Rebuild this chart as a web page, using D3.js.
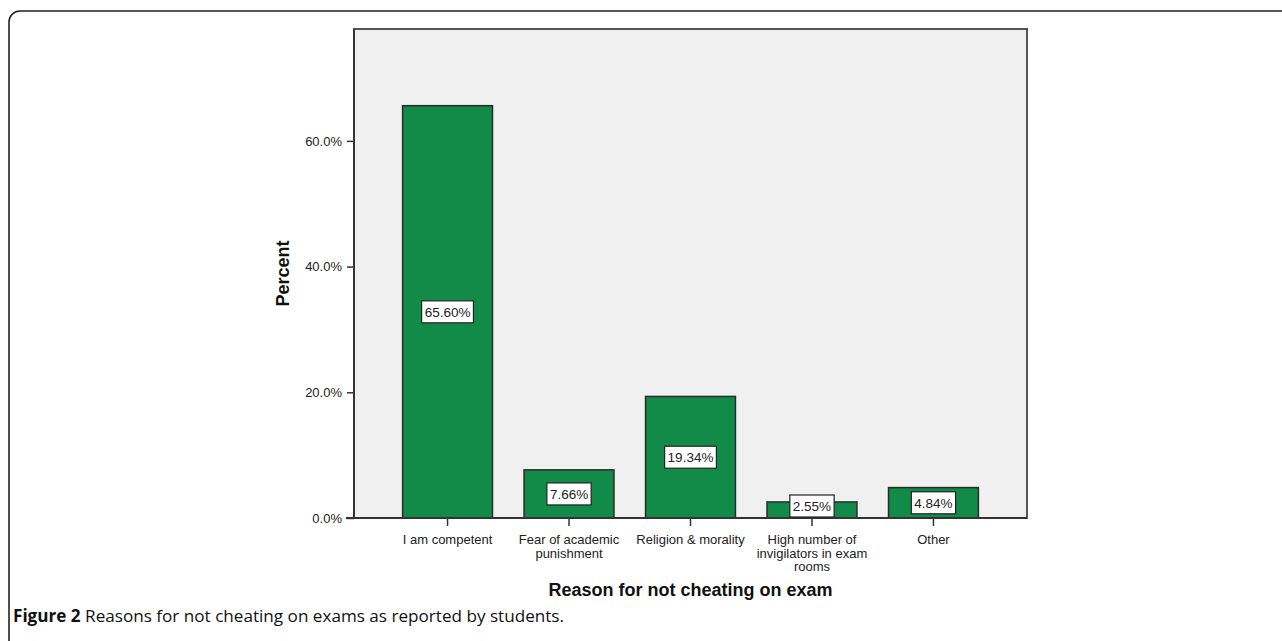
<!DOCTYPE html>
<html>
<head>
<meta charset="utf-8">
<script src="https://cdn.jsdelivr.net/npm/d3@7"></script>
<style>
  body { margin: 0; background: #fff; }
  svg { display: block; }
</style>
</head>
<body>
<div id="chart"></div>
<script>
///////////
// Data  //
///////////

var categories = [
	["I am competent"],
	["Fear of academic", "punishment"],
	["Religion & morality"],
	["High number of", "invigilators in exam", "rooms"],
	["Other"]
];
var percents = [65.60, 7.66, 19.34, 2.55, 4.84];
var yTicks = [0, 20, 40, 60];

///////////////////
// Initial setup //
///////////////////

var width = 1282, height = 641;
var font = "Liberation Sans, Arial, sans-serif";
var svg = d3.select("#chart").append("svg")
	.attr("width", width).attr("height", height);

// Outer rounded frame (runs off the right and bottom edges)
svg.append("rect")
	.attr("x", 9).attr("y", 11)
	.attr("width", 1400).attr("height", 800)
	.attr("rx", 11).attr("ry", 11)
	.attr("fill", "none").attr("stroke", "#222").attr("stroke-width", 1.6);

var plot = { left: 354, top: 29, right: 1027, bottom: 518 };
var keys = categories.map(function(c) { return c.join(" "); });

var x = d3.scaleBand().domain(keys)
	.range([plot.left, plot.right])
	.paddingInner(0.26).paddingOuter(0.4);
var y = d3.scaleLinear().domain([0, 77.8]).range([plot.bottom, plot.top]);

// Plot background
svg.append("rect")
	.attr("x", plot.left).attr("y", plot.top)
	.attr("width", plot.right - plot.left).attr("height", plot.bottom - plot.top)
	.attr("fill", "#f0f0f0").attr("stroke", "#555").attr("stroke-width", 2);

// Bars
svg.selectAll("rect.bar").data(percents).enter().append("rect")
	.attr("class", "bar")
	.attr("x", function(d, i) { return x(keys[i]); })
	.attr("y", function(d) { return y(d); })
	.attr("width", x.bandwidth())
	.attr("height", function(d) { return y(0) - y(d); })
	.attr("fill", "#118b47")
	.attr("stroke", "#2a2a2a").attr("stroke-width", 1.5);

// Y axis
var yAxis = svg.append("g")
	.attr("transform", "translate(" + plot.left + ",0)")
	.call(d3.axisLeft(y).tickValues(yTicks).tickSize(7).tickSizeOuter(0).tickPadding(5)
		.tickFormat(function(d) { return d.toFixed(1) + "%"; }));
yAxis.select(".domain").attr("stroke", "#333").attr("stroke-width", 2)
	.attr("d", "M0," + plot.bottom + "V" + plot.top);
yAxis.selectAll(".tick line").attr("stroke", "#333").attr("stroke-width", 1.5);
yAxis.selectAll("text").attr("font-family", font)
	.attr("font-size", "13px").attr("fill", "#222");

// X axis
var xAxis = svg.append("g")
	.attr("transform", "translate(0," + plot.bottom + ")")
	.call(d3.axisBottom(x).tickSize(8).tickSizeOuter(0).tickFormat(""));
xAxis.select(".domain").attr("stroke", "#333").attr("stroke-width", 2)
	.attr("d", "M" + (plot.left - 8) + ",0H" + plot.right);
xAxis.selectAll(".tick line").attr("stroke", "#333").attr("stroke-width", 1.5);

// Multi-line category labels
svg.selectAll("text.cat").data(categories).enter().append("text")
	.attr("class", "cat")
	.attr("font-family", font)
	.attr("font-size", "13px").attr("fill", "#222")
	.attr("text-anchor", "middle")
	.each(function(lines, i) {
		var t = d3.select(this);
		lines.forEach(function(line, j) {
			t.append("tspan")
				.attr("x", x(keys[i]) + x.bandwidth() / 2)
				.attr("y", 544 + j * 13.5)
				.text(line);
		});
	});

// Value labels in boxes
var labels = svg.selectAll("g.lab").data(percents).enter().append("g")
	.attr("class", "lab")
	.attr("transform", function(d, i) {
		var cy = Math.min((y(0) + y(d)) / 2, plot.bottom - 12);
		return "translate(" + (x(keys[i]) + x.bandwidth() / 2) + "," + cy + ")";
	});
labels.append("text")
	.attr("font-family", font)
	.attr("font-size", "13.5px").attr("fill", "#222")
	.attr("text-anchor", "middle").attr("dy", "0.36em")
	.text(function(d) { return d.toFixed(2) + "%"; });
labels.insert("rect", "text")
	.attr("x", function() { return -this.parentNode.querySelector("text").getBBox().width / 2 - 3; })
	.attr("y", -11)
	.attr("width", function() { return this.parentNode.querySelector("text").getBBox().width + 6; })
	.attr("height", 22)
	.attr("fill", "#fff").attr("stroke", "#222").attr("stroke-width", 1.2);

// Axis titles
svg.append("text")
	.attr("transform", "translate(289," + ((plot.top + plot.bottom) / 2) + ") rotate(-90)")
	.attr("text-anchor", "middle")
	.attr("font-family", font)
	.attr("font-size", "18px").attr("font-weight", "bold").attr("fill", "#111")
	.text("Percent");

svg.append("text")
	.attr("x", (plot.left + plot.right) / 2).attr("y", 596)
	.attr("text-anchor", "middle")
	.attr("font-family", font)
	.attr("font-size", "18px").attr("font-weight", "bold").attr("fill", "#111")
	.text("Reason for not cheating on exam");

// Caption
var cap = svg.append("text")
	.attr("x", 13).attr("y", 622)
	.attr("font-family", "Open Sans, sans-serif")
	.attr("font-size", "17px").attr("fill", "#111")
	.attr("textLength", 551).attr("lengthAdjust", "spacingAndGlyphs");
cap.append("tspan").attr("font-weight", "bold").text("Figure 2");
cap.append("tspan").text(" Reasons for not cheating on exams as reported by students.");
</script>
</body>
</html>
